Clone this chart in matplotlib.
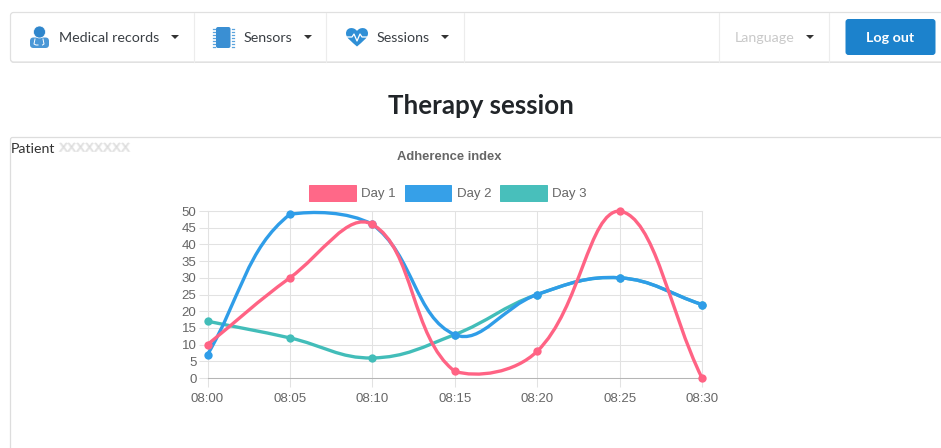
import matplotlib
matplotlib.use('Agg')
import matplotlib.pyplot as plt
from matplotlib.patches import Rectangle, FancyBboxPatch, Circle, PathPatch, Polygon
from matplotlib.path import Path
from matplotlib.transforms import IdentityTransform

times = ['08:00', '08:05', '08:10', '08:15', '08:20', '08:25', '08:30']
day1 = [10, 30, 46, 2, 8, 50, 0]
day2 = [7, 49, 46, 13, 25, 30, 22]
day3 = [17, 12, 6, 13, 25, 30, 22]
y_ticks = [0, 5, 10, 15, 20, 25, 30, 35, 40, 45, 50]
nav_items = ['Medical records', 'Sensors', 'Sessions']

PINK = '#ff6384'
BLUE = '#2f9de8'
TEAL = '#42bdb9'
W, H = 941, 448


def spline_path(ax, values):
    # same bezier as chart.js: tension 0.4, control points capped to the chart area
    pts = ax.transData.transform(list(enumerate(values)))
    box = ax.get_window_extent()
    verts = [tuple(pts[0])]
    codes = [Path.MOVETO]
    t = 0.4

    def controls(i):
        p = pts[max(i - 1, 0)]
        c = pts[i]
        n = pts[min(i + 1, len(pts) - 1)]
        d1 = ((c - p) ** 2).sum() ** 0.5
        d2 = ((n - c) ** 2).sum() ** 0.5
        s1 = d1 / (d1 + d2)
        s2 = d2 / (d1 + d2)
        before = c - t * s1 * (n - p)
        after = c + t * s2 * (n - p)
        for q in (before, after):
            q[0] = min(max(q[0], box.x0), box.x1)
            q[1] = min(max(q[1], box.y0), box.y1)
        return before, after

    for i in range(len(pts) - 1):
        verts += [tuple(controls(i)[1]), tuple(controls(i + 1)[0]), tuple(pts[i + 1])]
        codes += [Path.CURVE4] * 3
    return Path(verts, codes)


fig = plt.figure(figsize=(9.41, 4.48), dpi=100)

# page overlay in pixel coords, y pointing down
page = fig.add_axes([0, 0, 1, 1], zorder=0)
page.set_xlim(0, W)
page.set_ylim(H, 0)
page.axis('off')

# navbar
page.add_patch(FancyBboxPatch((10.5, 14), 950, 49, boxstyle='round,pad=0,rounding_size=3', fc='#e4e4e4', ec='none'))
page.add_patch(FancyBboxPatch((10.5, 12.5), 950, 49.5, boxstyle='round,pad=0,rounding_size=3', fc='white', ec='#e0e0e0', lw=0.9))
for sx in [194.5, 326.5, 464.5, 719.5, 829.5]:
    page.plot([sx, sx], [13, 62], color='#ececec', lw=0.8)

nav_font = dict(family='Lato', fontsize=10.3, va='center', color='#3a3f44')
for label, tx, cx in zip(nav_items, [59, 243.5, 377], [175, 308, 445]):
    page.text(tx, 37.5, label, **nav_font)
    page.add_patch(Polygon([(cx - 4, 35), (cx + 4, 35), (cx, 39)], fc='#333333', ec='none'))
page.text(735, 37.5, 'Language', family='Lato', fontsize=10.3, va='center', color='#c9c9c9')
page.add_patch(Polygon([(806, 35), (814, 35), (810, 39)], fc='#333333', ec='none'))
page.add_patch(FancyBboxPatch((845.5, 19), 90, 36, boxstyle='round,pad=0,rounding_size=3', fc='#1c82cc', ec='none'))
page.text(890.5, 37.5, 'Log out', family='Lato', fontsize=10.3, fontweight='bold', color='white', ha='center', va='center')

# doctor icon
ICON = '#2f86cc'
page.add_patch(FancyBboxPatch((30, 37.5), 19, 10.5, boxstyle='round,pad=0,rounding_size=3.5', fc='#4a97d6', ec='none'))
page.add_patch(Circle((39.5, 32), 6, fc=ICON, ec='white', lw=0.5))
page.plot([35, 34, 36, 38], [39, 44, 45, 45], color='white', lw=0.7)
page.plot([43, 44, 42.5], [39, 44, 45], color='white', lw=0.7)

# chip icon
page.add_patch(FancyBboxPatch((216, 27), 14.5, 21, boxstyle='round,pad=0,rounding_size=2', fc='#3a8fd3', ec='none'))
for cy in range(29, 48, 3):
    page.plot([212.8, 214.6], [cy, cy], color='#5aa3dd', lw=0.9)
    page.plot([231.8, 233.6], [cy, cy], color='#5aa3dd', lw=0.9)

# heart icon
heart = Path([(357, 46.5),
              (352, 42), (346, 38), (346, 33.5),
              (346, 27), (354, 26.5), (357, 31),
              (360, 26.5), (368, 27), (368, 33.5),
              (368, 38), (362, 42), (357, 46.5)],
             [Path.MOVETO] + [Path.CURVE4] * 12)
page.add_patch(PathPatch(heart, fc='#2f8fd6', ec='none'))
page.plot([347, 352, 354, 357, 360, 362, 367], [37, 37, 34, 41, 34, 37, 37], color='white', lw=0.9)

page.text(481, 106.5, 'Therapy session', family='Lato', fontsize=18.6, fontweight='bold', color='#212529', ha='center', va='center')

# panel around chart
page.add_patch(FancyBboxPatch((10.5, 137.5), 950, 400, boxstyle='round,pad=0,rounding_size=2', fc='white', ec='#dddddd', lw=0.9))
page.text(10.5, 149, 'Patient', family='Lato', fontsize=10.2, color='#333333', va='center')
# name is blurred in the picture, smear it with a few offset copies
for dx, dy in [(-0.8, 0), (0.8, 0), (0, -0.8), (0, 0.8), (0, 0)]:
    page.text(59 + dx, 148.5 + dy, 'XXXXXXXX', family='Liberation Sans', fontsize=9.7, color='#c4c4c4', alpha=0.2, va='center')

# chart title and legend
page.text(449, 157.5, 'Adherence index', family='Liberation Sans', fontsize=9.4, fontweight='bold', color='#666666', ha='center', va='center')
for fc, bx, tx, name in zip([PINK, BLUE, TEAL], [309.5, 405, 500.5], [361, 457, 552], ['Day 1', 'Day 2', 'Day 3']):
    page.add_patch(Rectangle((bx, 185.5), 46.5, 15.5, fc=fc, ec=fc, lw=0.7, alpha=0.97))
    page.text(tx, 193.5, name, family='Liberation Sans', fontsize=9.5, color='#666666', va='center')

# chart
ax = fig.add_axes([207.5 / W, 1 - 378 / H, (702 - 207.5) / W, (378 - 211) / H], zorder=1)
ax.patch.set_alpha(0)
ax.set_xlim(0, len(times) - 1)
ax.set_ylim(0, 50)
ax.set_xticks(range(len(times)))
ax.set_xticklabels(times)
ax.set_yticks(y_ticks)
ax.grid(True, color='#e2e2e2', lw=0.75)
ax.set_axisbelow(True)
ax.tick_params(length=6.5, width=0.75, color='#e2e2e2', labelcolor='#666666', labelsize=9.5, pad=1.5)
ax.tick_params(axis='x', pad=4.5)
for label in ax.get_xticklabels() + ax.get_yticklabels():
    label.set_family('Liberation Sans')
for side in ['top', 'right', 'left']:
    ax.spines[side].set_color('#e2e2e2')
    ax.spines[side].set_linewidth(0.75)
ax.spines['bottom'].set_color('#b5b5b5')
ax.spines['bottom'].set_linewidth(0.75)

# first dataset ends up on top, like chart.js
for values, color, z in [(day3, TEAL, 3), (day2, BLUE, 4), (day1, PINK, 5)]:
    curve = spline_path(ax, values)
    ax.add_patch(PathPatch(curve, transform=IdentityTransform(), fc='none', ec=color, lw=2.4, zorder=z, clip_on=False))
    ax.plot(range(len(values)), values, ls='none', marker='o', ms=6, mfc=color, mec=color, mew=0, zorder=z, clip_on=False)

fig.savefig('out.png', dpi=100)
